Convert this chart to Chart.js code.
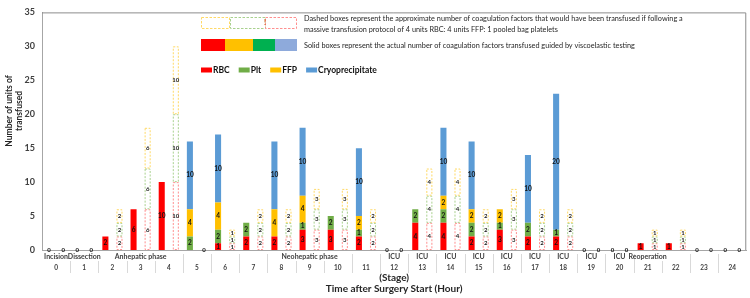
<!DOCTYPE html>
<html>
<head>
<meta charset="utf-8">
<script src="https://cdn.jsdelivr.net/npm/chart.js@4"></script>
<style>
  html, body { margin:0; padding:0; background:#fff; }
  #wrap { width:750px; height:298px; position:relative; }
</style>
</head>
<body>
<div id="wrap"><canvas id="chart" width="750" height="298"></canvas></div>
<script>
const hours = ['0','1','2','3','4','5','6','7','8','9','10','11','12','13','14','15','16','17','18','19','20','21','22','23','24'];
const stages = ['Incision','Dissection','','Anhepatic phase','','','','','','Neohepatic phase','','','ICU','ICU','ICU','ICU','ICU','ICU','ICU','ICU','ICU','Reoperation','','',''];
// stage row dividers (hour index where a new group starts)
const stageBreaks = [5,6,7,8,11,12,13,14,15,16,17,18,19,20,21,23,24];

// actual transfusion (viscoelastic guided)
const rbc  = [0,0,2,6,10,0,1,2,2,3,3,2,0,4,4,2,3,2,2,0,0,1,1,0,0];
const plt  = [0,0,0,0,0,2,2,2,0,1,2,1,0,2,2,2,1,2,1,0,0,0,0,0,0];
const ffp  = [0,0,0,0,0,4,4,0,4,4,0,2,0,0,2,2,2,0,0,0,0,0,0,0,0];
const cryo = [0,0,0,0,0,10,10,0,10,10,0,10,0,0,10,10,0,10,20,0,0,0,0,0,0];
// massive transfusion protocol estimate (dashed)
const mtpRbc = [0,0,2,6,10,0,1,2,2,3,3,2,0,4,4,2,3,2,2,0,0,1,1,0,0];
const mtpPlt = [0,0,2,6,10,0,1,2,2,3,3,2,0,4,4,2,3,2,2,0,0,1,1,0,0];
const mtpFfp = [0,0,2,6,10,0,1,2,2,3,3,2,0,4,4,2,3,2,2,0,0,1,1,0,0];

const yTicks = [0,5,10,15,20,25,30,35];

const FONT = 'Lato, "Open Sans", sans-serif';

function solid(label, data, color){
  return { label, data, stack:'actual', backgroundColor:color, borderWidth:0, barPercentage:0.43, categoryPercentage:1, solid:true };
}
function dashed(label, data, color){
  return { label, data, stack:'mtp', backgroundColor:'rgba(0,0,0,0)', borderWidth:0, barPercentage:0.43, categoryPercentage:1, dash:color };
}

const labelsPlugin = {
  id:'segLabels',
  afterDatasetsDraw(chart){
    const ctx = chart.ctx;
    ctx.save();
    ctx.textAlign = 'center';
    ctx.textBaseline = 'middle';
    chart.data.datasets.forEach((ds, di) => {
      const meta = chart.getDatasetMeta(di);
      meta.data.forEach((el, i) => {
        const v = ds.data[i];
        if (!v) return;
        const p = el.getProps(['x','y','base','width'], true);
        if (ds.dash){
          ctx.setLineDash([2,1.5]);
          ctx.lineWidth = 1;
          ctx.strokeStyle = ds.dash;
          ctx.strokeRect(p.x - p.width/2 + 0.5, p.y + 0.5, p.width - 1, p.base - p.y - 1);
          ctx.setLineDash([]);
          ctx.fillStyle = '#222';
          ctx.font = 'bold 6px ' + FONT;
        } else {
          ctx.fillStyle = '#111';
          ctx.font = 'bold 6.5px ' + FONT;
        }
        ctx.fillText(String(v), p.x, (p.y + p.base)/2);
      });
    });
    // zero labels where a whole stack is empty
    const x = chart.scales.x, y = chart.scales.y;
    const half = (x.getPixelForValue(1) - x.getPixelForValue(0)) / 4;
    ctx.fillStyle = '#111';
    ctx.font = 'bold 6px ' + FONT;
    hours.forEach((h, i) => {
      const a = rbc[i] + plt[i] + ffp[i] + cryo[i];
      const m = mtpRbc[i] + mtpPlt[i] + mtpFfp[i];
      const cx = x.getPixelForValue(i);
      if (a === 0) ctx.fillText('0', cx - half, y.getPixelForValue(0));
      if (m === 0) ctx.fillText('0', cx + half, y.getPixelForValue(0));
    });
    ctx.restore();
  }
};

const decorPlugin = {
  id:'decor',
  afterDraw(chart){
    const ctx = chart.ctx;
    const area = chart.chartArea;
    const x = chart.scales.x;
    const step = x.getPixelForValue(1) - x.getPixelForValue(0);
    ctx.save();
    // plot frame
    ctx.strokeStyle = '#8c8c8c';
    ctx.lineWidth = 1;
    ctx.beginPath();
    ctx.moveTo(area.left, area.top + 0.5);
    ctx.lineTo(area.right - 0.5, area.top + 0.5);
    ctx.lineTo(area.right - 0.5, area.bottom);
    ctx.stroke();

    // hour separators and stage separators
    ctx.strokeStyle = '#d9d9d9';
    for (let i = 1; i < hours.length; i++){
      const bx = Math.round(x.getPixelForValue(i) - step/2) + 0.5;
      ctx.beginPath();
      ctx.moveTo(bx, stageBreaks.includes(i) ? area.bottom + 4 : area.bottom + 11);
      ctx.lineTo(bx, area.bottom + 23);
      ctx.stroke();
    }
    // stage labels
    ctx.fillStyle = '#404040';
    ctx.textAlign = 'center';
    ctx.textBaseline = 'middle';
    ctx.font = 'bold 7px ' + FONT;
    stages.forEach((s, i) => { if (s) ctx.fillText(s, x.getPixelForValue(i), area.bottom + 7); });

    // axis titles
    ctx.fillStyle = '#262626';
    ctx.font = 'bold 10px ' + FONT;
    const mid = (area.left + area.right) / 2;
    ctx.fillText('(Stage)', mid, area.bottom + 28);
    ctx.fillText('Time after Surgery Start (Hour)', mid, area.bottom + 39);
    ctx.save();
    ctx.font = 'bold 8.5px ' + FONT;
    ctx.translate(0, 111);
    ctx.rotate(-Math.PI/2);
    ctx.fillText('Number of units of', 0, 9);
    ctx.fillText('transfused', 0, 19.5);
    ctx.restore();

    // legend: dashed boxes
    const lx = 201;
    ctx.lineWidth = 1;
    ctx.setLineDash([2.5,1.5]);
    [['#ffd966',201,229],['#a9d18e',230,265],['#ff8f8f',265,296]].forEach(b => {
      ctx.strokeStyle = b[0];
      ctx.strokeRect(b[1] + 0.5, 17.5, b[2] - b[1], 11);
    });
    ctx.setLineDash([]);
    ctx.fillStyle = '#c55a11';
    ctx.font = 'bold 7px ' + FONT;
    ctx.fillText('!', 265, 23);
    // legend: solid boxes
    [['#ff0000',201,225],['#ffc000',225,253],['#00b050',253,275],['#8eaadb',275,297]].forEach(b => {
      ctx.fillStyle = b[0];
      ctx.fillRect(b[1], 39, b[2] - b[1], 12);
    });
    ctx.fillStyle = '#262626';
    ctx.textAlign = 'left';
    ctx.font = '7.3px ' + FONT;
    ctx.fillText('Dashed boxes represent the approximate number of coagulation factors that would have been transfused if following a', 304, 19);
    ctx.fillText('massive transfusion protocol of 4 units RBC: 4 units FFP: 1 pooled bag platelets', 304, 29.5);
    ctx.fillText('Solid boxes represent the actual number of coagulation factors transfused guided by viscoelastic testing', 304, 46);

    // series legend
    let px = lx;
    ctx.font = 'bold 8.5px ' + FONT;
    chart.data.datasets.filter(d => d.solid).forEach(d => {
      ctx.fillStyle = d.backgroundColor;
      ctx.fillRect(px, 67.5, 11, 5);
      ctx.fillStyle = '#111';
      ctx.fillText(d.label, px + 12, 70.5);
      px += 12 + ctx.measureText(d.label).width + 9;
    });
    ctx.restore();
  }
};

new Chart(document.getElementById('chart'), {
  type:'bar',
  data:{
    labels: hours,
    datasets:[
      solid('RBC', rbc, '#ff0000'),
      solid('Plt', plt, '#70ad47'),
      solid('FFP', ffp, '#ffc000'),
      solid('Cryoprecipitate', cryo, '#5b9bd5'),
      dashed('MTP RBC', mtpRbc, '#ff8f8f'),
      dashed('MTP Plt', mtpPlt, '#a9d18e'),
      dashed('MTP FFP', mtpFfp, '#ffd966')
    ]
  },
  options:{
    responsive:false,
    animation:false,
    layout:{ padding:{ top:7, right:2, left:0, bottom:0 } },
    plugins:{ legend:{ display:false }, tooltip:{ enabled:false } },
    scales:{
      x:{
        stacked:true,
        grid:{ display:false, drawTicks:false },
        border:{ display:true, color:'#a6a6a6' },
        ticks:{ autoSkip:false, maxRotation:0, padding:14, color:'#404040', font:{ family:FONT, size:6.5, weight:'bold' } },
        afterFit(s){ s.height = 48; }
      },
      y:{
        stacked:true,
        min:0, max:35,
        grid:{ display:false, drawTicks:false },
        border:{ display:true, color:'#a6a6a6' },
        afterBuildTicks(s){ s.ticks = yTicks.map(v => ({ value:v })); },
        ticks:{ padding:7, color:'#404040', font:{ family:FONT, size:9, weight:'bold' } },
        afterFit(s){ s.width = 42; }
      }
    }
  },
  plugins:[labelsPlugin, decorPlugin]
});
</script>
</body>
</html>
